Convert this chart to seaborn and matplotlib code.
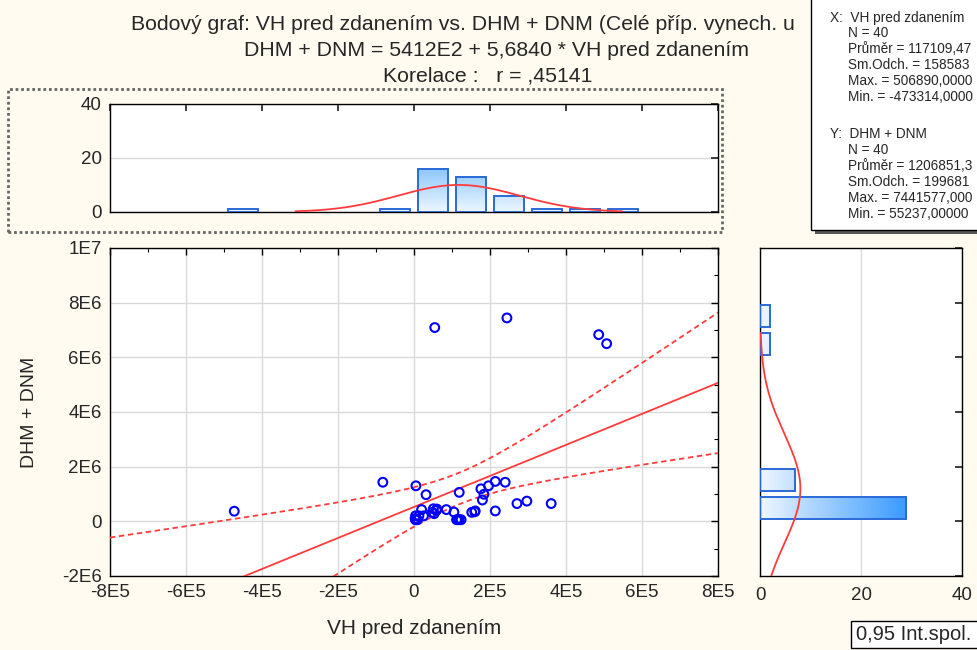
import numpy as np
import pandas as pd
import matplotlib
matplotlib.use("Agg")
import matplotlib.pyplot as plt
import seaborn as sns
from matplotlib.colors import LinearSegmentedColormap
from matplotlib.patches import Rectangle
from matplotlib.ticker import MultipleLocator

# ---------------- data ----------------
vh_pred_zdanenim = [54600, 244500, 486000, 507000, -82000, 5000, 31700, 119000, 176000, 184000,
                    180000, 196000, 214000, 240000, 214000, 271000, 297000, 361000, 152000, 161000,
                    105000, 85000, 59000, 51000, 48000, 20000, 4000, 4000, 13000, 25000,
                    9000, 112000, 119000, 124000, -473000, 3000, 53000, 116000, 60000, 160000]
dhm_dnm = [7090000, 7441577, 6830000, 6500000, 1430000, 1300000, 975000, 1060000, 1190000, 990000,
           780000, 1300000, 1460000, 1430000, 380000, 650000, 740000, 650000, 330000, 380000,
           340000, 430000, 400000, 460000, 330000, 430000, 200000, 55237, 200000, 200000,
           60000, 60000, 60000, 60000, 370000, 100000, 280000, 60000, 450000, 350000]

x_ticks = [-8e5, -6e5, -4e5, -2e5, 0, 2e5, 4e5, 6e5, 8e5]
x_tick_labels = ["-8E5", "-6E5", "-4E5", "-2E5", "0", "2E5", "4E5", "6E5", "8E5"]
y_ticks = [-2e6, 0, 2e6, 4e6, 6e6, 8e6, 1e7]
y_tick_labels = ["-2E6", "0", "2E6", "4E6", "6E6", "8E6", "1E7"]
count_ticks = [0, 20, 40]
count_tick_labels = ["0", "20", "40"]

title_lines = ["Bodový graf: VH pred zdanením vs. DHM + DNM (Celé příp. vynech. u",
               "DHM + DNM = 5412E2 + 5,6840 * VH pred zdanením",
               "Korelace :   r = ,45141"]
x_label = "VH pred zdanením"
y_label = "DHM + DNM"
stats_lines = [("X:  VH pred zdanením", 0), ("N = 40", 1), ("Průměr = 117109,47", 1),
               ("Sm.Odch. = 158583", 1), ("Max. = 506890,0000", 1), ("Min. = -473314,0000", 1),
               ("Y:  DHM + DNM", 0), ("N = 40", 1), ("Průměr = 1206851,3", 1),
               ("Sm.Odch. = 199681", 1), ("Max. = 7441577,000", 1), ("Min. = 55237,00000", 1)]
legend_text = "0,95 Int.spol."

# ---------------- style ----------------
sns.set_theme(style="white")
plt.rcParams["font.family"] = ["Liberation Sans", "DejaVu Sans"]

BG = "#fffbf0"
BLUE_PT = "#0000ff"
RED = "#ff3b3b"
EDGE = "#2a6ad8"
GRID = "#d9d9d9"

W, H = 977, 650
fig = plt.figure(figsize=(W / 100, H / 100), dpi=100, facecolor=BG)


def rect(l, t, r, b):
    return [l / W, 1 - b / H, (r - l) / W, (b - t) / H]


ax = fig.add_axes(rect(110, 248, 718, 576))
axt = fig.add_axes(rect(110, 104, 718, 212))
axr = fig.add_axes(rect(760, 248, 962, 576))

for a in (ax, axt, axr):
    a.set_facecolor("white")
    for s in a.spines.values():
        s.set_color("black")
        s.set_linewidth(1.0)
        s.set_visible(True)

df = pd.DataFrame({"x": vh_pred_zdanenim, "y": dhm_dnm})
x = df["x"].to_numpy(float)
y = df["y"].to_numpy(float)
n = len(x)

XLIM = (-8e5, 8e5)
YLIM = (-2e6, 1e7)

# ---------------- main scatter ----------------
ax.grid(True, color=GRID, lw=1.0)
ax.set_axisbelow(True)
sns.scatterplot(data=df, x="x", y="y", ax=ax, color=BLUE_PT, facecolor="none",
                edgecolor=BLUE_PT, s=40, linewidth=1.5, zorder=4)

slope, intercept = np.polyfit(x, y, 1)
xs = np.linspace(XLIM[0], XLIM[1], 300)
fit = intercept + slope * xs
resid = y - (intercept + slope * x)
s_res = np.sqrt(np.sum(resid ** 2) / (n - 2))
t_crit = 2.024
se = s_res * np.sqrt(1 / n + (xs - x.mean()) ** 2 / np.sum((x - x.mean()) ** 2))
ax.plot(xs, fit, color=RED, lw=1.3, zorder=3)
ax.plot(xs, fit + t_crit * se, color=RED, lw=1.3, ls=(0, (3, 2)), zorder=3)
ax.plot(xs, fit - t_crit * se, color=RED, lw=1.3, ls=(0, (3, 2)), zorder=3)

ax.set_xlim(*XLIM)
ax.set_ylim(*YLIM)
ax.set_xticks(x_ticks)
ax.set_xticklabels(x_tick_labels)
ax.set_yticks(y_ticks)
ax.set_yticklabels(y_tick_labels)
ax.xaxis.set_minor_locator(MultipleLocator(1e5))
ax.yaxis.set_minor_locator(MultipleLocator(1e6))
ax.tick_params(which="both", direction="in", top=True, right=True, color="black")
ax.tick_params(which="major", length=5, width=1, labelsize=13.5, pad=6)
ax.tick_params(which="minor", length=3, width=0.8)
ax.set_xlabel(x_label, fontsize=15, labelpad=13)
ax.set_ylabel(y_label, fontsize=14, labelpad=17)

# ---------------- gradient colormaps ----------------
cmap_top = LinearSegmentedColormap.from_list("top", ["#eef7ff", "#8cc6ff"])
cmap_right = LinearSegmentedColormap.from_list("right", ["#eef6ff", "#3a9bff"])

# ---------------- top histogram ----------------
bins_x = np.arange(-8e5, 8e5 + 1, 1e5)
sns.histplot(data=df, x="x", bins=bins_x, shrink=0.8, ax=axt, fill=False,
             color=EDGE, linewidth=1.4, zorder=3)
for p in list(axt.patches):
    if p.get_height() <= 0:
        p.remove()
bars_t = list(axt.patches)
hmax = max(p.get_height() for p in bars_t)
for p in bars_t:
    x0, w, h = p.get_x(), p.get_width(), p.get_height()
    grad = np.linspace(0, h / hmax, 64).reshape(-1, 1)
    axt.imshow(grad, extent=[x0, x0 + w, 0, h], origin="lower", aspect="auto",
               cmap=cmap_top, vmin=0, vmax=1, zorder=2, interpolation="bicubic")
mx, sx = x.mean(), x.std(ddof=1)
xn = np.linspace(mx - 2.7 * sx, mx + 2.7 * sx, 200)
axt.plot(xn, n * 1e5 * np.exp(-0.5 * ((xn - mx) / sx) ** 2) / (sx * np.sqrt(2 * np.pi)),
         color=RED, lw=1.3, zorder=4)
axt.set_xlim(*XLIM)
axt.set_ylim(0, 40)
axt.set_xticks(x_ticks)
axt.set_xticklabels([])
axt.set_yticks(count_ticks)
axt.set_yticklabels(count_tick_labels)
axt.yaxis.grid(True, color=GRID, lw=1.0)
axt.set_axisbelow(True)
axt.tick_params(direction="in", top=True, right=True, length=5, labelsize=13.5, pad=6)
axt.set_xlabel("")
axt.set_ylabel("")

# ---------------- right histogram ----------------
bins_y = np.arange(-2e6, 1e7 + 1, 1e6)
sns.histplot(data=df, y="y", bins=bins_y, shrink=0.8, ax=axr, fill=False,
             color=EDGE, linewidth=1.4, zorder=3)
for p in list(axr.patches):
    if p.get_width() <= 0:
        p.remove()
bars_r = list(axr.patches)
wmax = max(p.get_width() for p in bars_r)
for p in bars_r:
    y0, hh, w = p.get_y(), p.get_height(), p.get_width()
    grad = np.linspace(0, w / wmax, 64).reshape(1, -1)
    axr.imshow(grad, extent=[0, w, y0, y0 + hh], origin="lower", aspect="auto",
               cmap=cmap_right, vmin=0, vmax=1, zorder=2, interpolation="bicubic")
my, sy = y.mean(), y.std(ddof=1)
yn = np.linspace(YLIM[0], my + 2.85 * sy, 200)
axr.plot(n * 1e6 * np.exp(-0.5 * ((yn - my) / sy) ** 2) / (sy * np.sqrt(2 * np.pi)), yn,
         color=RED, lw=1.3, zorder=4)
axr.set_xlim(0, 40)
axr.set_ylim(*YLIM)
axr.set_xticks(count_ticks)
axr.set_xticklabels(count_tick_labels)
axr.set_yticks(y_ticks)
axr.set_yticklabels([])
axr.xaxis.grid(True, color=GRID, lw=1.0)
axr.set_axisbelow(True)
axr.tick_params(direction="in", top=False, right=True, length=5, labelsize=13.5, pad=8)
axr.tick_params(axis="x", length=0)
axr.set_xlabel("")
axr.set_ylabel("")

# ---------------- decorations ----------------
fig.patches.append(Rectangle((8 / W, 1 - 232 / H), 714 / W, 143 / H, transform=fig.transFigure,
                             fill=False, ec="#666666", lw=2.0, ls=(0, (1, 1))))

fig.text(131 / W, 1 - 25 / H, title_lines[0], ha="left", va="center", fontsize=15.3)
fig.text(497 / W, 1 - 51 / H, title_lines[1], ha="center", va="center", fontsize=15.3)
fig.text(488 / W, 1 - 76 / H, title_lines[2], ha="center", va="center", fontsize=15.3)

# stats box
fig.patches.append(Rectangle((815 / W, 1 - 234 / H), 170 / W, 240 / H, transform=fig.transFigure,
                             fc="#555555", ec="none", zorder=1))
fig.patches.append(Rectangle((811 / W, 1 - 230 / H), 170 / W, 240 / H, transform=fig.transFigure,
                             fc="white", ec="black", lw=1.0, zorder=2))
y_pos = [18, 33, 49, 65, 81, 97, 134, 150, 166, 182, 198, 214]
for (txt, indent), yy in zip(stats_lines, y_pos):
    fig.text((830 + 18 * indent) / W, 1 - yy / H, txt, ha="left", va="center",
             fontsize=9.8, zorder=3)

# legend box
fig.patches.append(Rectangle((851 / W, 1 - 648 / H), 140 / W, 27 / H, transform=fig.transFigure,
                             fc="white", ec="black", lw=1.0, zorder=2))
fig.text(856 / W, 1 - 635 / H, legend_text, ha="left", va="center", fontsize=14.5, zorder=3)

fig.savefig("out.png", dpi=100, facecolor=BG)
